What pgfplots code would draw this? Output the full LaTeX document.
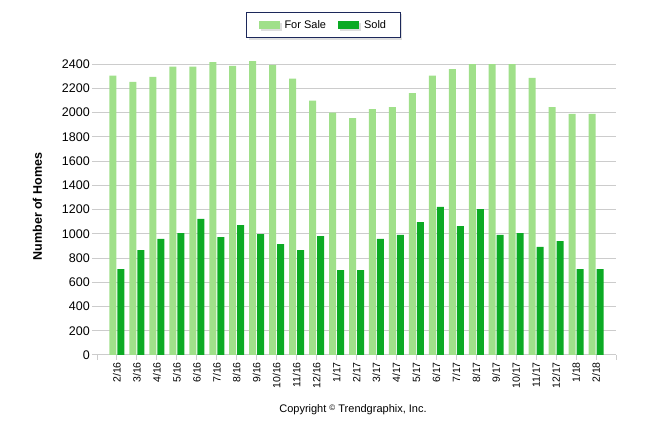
\documentclass[border=0pt]{standalone}
\usepackage{fontspec}
\setmainfont{Liberation Sans}
\usepackage{pgfplots}
\pgfplotsset{compat=1.18}
\usetikzlibrary{shadows}
\definecolor{forsale}{RGB}{160,224,138}
\definecolor{sold}{RGB}{12,170,36}
\definecolor{gridc}{RGB}{204,204,204}
\definecolor{navy}{RGB}{28,40,90}
\begin{document}
\begin{tikzpicture}
\path[use as bounding box] (0,0) rectangle (646bp,434bp);
\begin{axis}[
  at={(97bp,79bp)}, anchor=south west,
  scale only axis, width=519bp, height=297bp,
  xmin=-1, xmax=25, ymin=0, ymax=2450,
  axis x line*=bottom, axis y line*=left,
  y axis line style={draw=none},
  x axis line style={draw=gridc, line width=1bp},
  tick align=outside, major tick length=5bp,
  tick style={draw=gridc, line width=1bp},
  ymajorgrids, grid style={draw=gridc, line width=1bp},
  ytick={0,200,...,2400},
  xtick={-1,0,...,25},
  xticklabels={,2/16,3/16,4/16,5/16,6/16,7/16,8/16,9/16,10/16,11/16,12/16,1/17,2/17,3/17,4/17,5/17,6/17,7/17,8/17,9/17,10/17,11/17,12/17,1/18,2/18,},
  /pgf/number format/assume math mode=true,
  /pgf/number format/1000 sep={},
  yticklabel style={font=\fontsize{12.5bp}{14bp}\selectfont, inner xsep=2bp},
  xticklabel style={font=\fontsize{10.5bp}{12bp}\selectfont, rotate=90, anchor=east, inner xsep=2bp},
  ylabel={\textbf{Number of Homes}},
  ylabel style={font=\fontsize{12.5bp}{14bp}\selectfont, at={(axis description cs:-0.115,0.5)}, anchor=center},
  ybar, bar width=7bp,
  legend columns=2,
  legend style={at={(axis description cs:0.436,1.111)}, anchor=center,
    draw=navy, line width=1bp, fill=white,
    drop shadow={shadow xshift=2bp, shadow yshift=-2bp, fill=gray!50},
    font=\fontsize{11bp}{13bp}\selectfont,
    inner xsep=12bp, inner ysep=6bp,
    /tikz/every odd column/.append style={column sep=3bp},
    /tikz/every even column/.append style={column sep=10bp}},
  legend image code/.code={\fill[#1] (0bp,-4bp) rectangle (21bp,4bp);},
]
\addplot[draw=none, fill=forsale, bar shift=-4bp] coordinates {
(0,2304) (1,2254) (2,2295) (3,2378) (4,2378) (5,2416) (6,2386) (7,2425) (8,2394) (9,2279) (10,2098) (11,1999) (12,1955) (13,2029) (14,2045) (15,2161) (16,2304) (17,2359) (18,2400) (19,2400) (20,2400) (21,2285) (22,2045) (23,1990) (24,1990)};
\addlegendentry{For Sale}
\addplot[draw=none, fill=sold, bar shift=4bp] coordinates {
(0,709) (1,866) (2,957) (3,1006) (4,1122) (5,973) (6,1072) (7,998) (8,915) (9,866) (10,981) (11,701) (12,701) (13,957) (14,990) (15,1097) (16,1221) (17,1064) (18,1204) (19,990) (20,1006) (21,891) (22,940) (23,709) (24,709)};
\addlegendentry{Sold}
\end{axis}
\node[font=\fontsize{11bp}{13bp}\selectfont] at (353bp,24bp) {Copyright {\raisebox{2.5bp}{\fontsize{8bp}{8bp}\selectfont ©}} Trendgraphix, Inc.};
\end{tikzpicture}
\end{document}
